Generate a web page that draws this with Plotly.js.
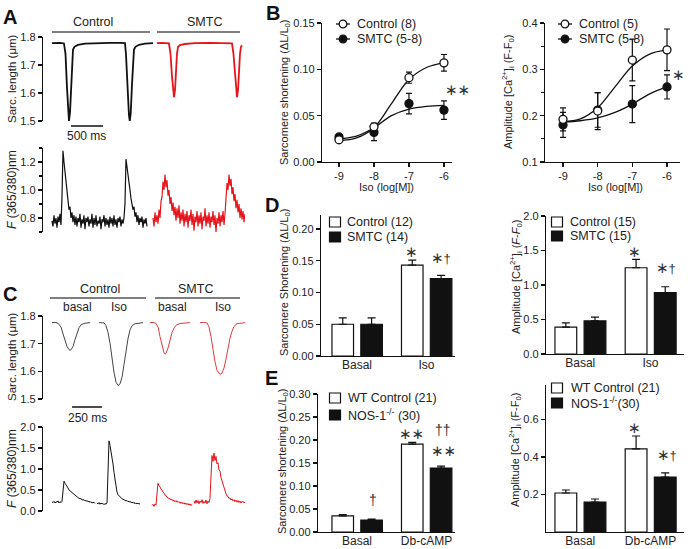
<!DOCTYPE html>
<html><head><meta charset="utf-8">
<script src="https://cdn.plot.ly/plotly-3.0.1.min.js"></script>
<style>html,body{margin:0;padding:0;background:#fff}#chart{width:688px;height:549px}</style>
</head><body><div id="chart"></div>
<script>
// ================= DATA =================
// Panel A – sarcomere length (µm) vs time (ms), 1 Hz field stimulation
const aSarcCtrlT = [0,47,125,187,211,234,257,265,281,296,312,328,351,406,515,671,905,1061,1139,1154,1178,1201,1214,1229,1248,1264,1279,1303,1357,1451,1576];
const aSarcCtrlL = [1.778,1.779,1.779,1.777,1.74,1.62,1.52,1.50,1.53,1.62,1.70,1.755,1.765,1.772,1.776,1.778,1.779,1.779,1.778,1.74,1.62,1.52,1.50,1.53,1.63,1.71,1.755,1.765,1.772,1.776,1.778];
const aSarcSmtcT = [0,78,187,211,234,254,265,281,296,312,328,359,437,593,827,1061,1170,1193,1217,1237,1248,1264,1279,1295,1310,1326];
const aSarcSmtcL = [1.778,1.779,1.777,1.74,1.66,1.60,1.585,1.61,1.68,1.74,1.765,1.771,1.775,1.778,1.779,1.778,1.777,1.74,1.66,1.60,1.585,1.61,1.68,1.74,1.765,1.77];
// Panel A – Fura-2 ratio F(365/380), sampled every aCaDt ms
const aCaDt = 15.6;
const aCaCtrl = [0.78,0.74,0.82,0.76,0.80,0.73,0.81,0.77,0.83,0.75,
 0.95,1.28,1.20,1.12,1.05,0.97,0.92,0.86,0.88,0.80,
 0.84,0.77,0.82,0.75,0.81,0.74,0.80,0.77,0.83,0.73,
 0.79,0.76,0.82,0.72,0.80,0.77,0.81,0.74,0.79,0.76,
 0.83,0.73,0.80,0.75,0.82,0.74,0.78,0.76,0.81,0.72,
 0.79,0.77,0.82,0.74,0.80,0.75,0.79,0.73,0.81,0.76,
 0.80,0.74,0.82,0.75,0.79,0.73,0.80,0.77,0.81,0.74,
 0.79,0.76,0.80,0.90,1.22,1.17,1.13,1.06,1.00,0.94,
 0.91,0.86,0.88,0.81,0.84,0.77,0.82,0.75,0.80,0.77,
 0.81,0.73,0.79,0.76,0.80,0.74];
const aCaSmtc = [0.80,0.74,0.84,0.77,0.82,0.76,0.86,0.80,0.92,0.95,
 1.06,1.00,1.11,1.02,1.07,0.96,1.00,0.90,0.95,0.85,
 0.91,0.82,0.88,0.78,0.87,0.80,0.89,0.76,0.84,0.78,
 0.86,0.74,0.83,0.77,0.85,0.73,0.82,0.78,0.86,0.75,
 0.83,0.71,0.81,0.77,0.85,0.74,0.82,0.76,0.84,0.72,
 0.81,0.78,0.87,0.74,0.82,0.76,0.84,0.73,0.81,0.77,
 0.85,0.75,0.82,0.70,0.80,0.76,0.84,0.74,0.82,0.77,
 0.85,0.75,0.83,0.92,1.05,1.00,1.11,1.03,1.08,0.97,
 1.02,0.92,0.97,0.87,0.93,0.84,0.90,0.80,0.87,0.79,
 0.85,0.77,0.83];

// Panel C – sarcomere length sweeps (basal / Iso)
const cSarcCtrlBasT = [0,25,50,75,92,108,125,142,150,158,175,192,208,225,242,267,292,317];
const cSarcCtrlBasL = [1.776,1.777,1.774,1.76,1.735,1.71,1.69,1.678,1.676,1.678,1.69,1.715,1.74,1.758,1.768,1.773,1.775,1.776];
const cSarcCtrlIsoT = [0,25,42,58,75,92,108,125,142,158,175,192,208,225,242,258,275,300,333,367];
const cSarcCtrlIsoL = [1.776,1.777,1.775,1.765,1.74,1.70,1.645,1.595,1.56,1.549,1.555,1.58,1.625,1.675,1.72,1.75,1.765,1.772,1.775,1.776];
const cSarcSmtcBasT = [0,25,50,67,83,100,117,125,133,150,167,183,200,217,250,292,333];
const cSarcSmtcBasL = [1.776,1.777,1.773,1.76,1.725,1.69,1.666,1.662,1.665,1.685,1.715,1.74,1.757,1.767,1.773,1.775,1.776];
const cSarcSmtcIsoT = [0,33,58,75,92,108,125,142,158,167,183,200,217,233,250,267,283,308,342,375];
const cSarcSmtcIsoL = [1.776,1.777,1.775,1.76,1.725,1.68,1.635,1.603,1.591,1.589,1.593,1.612,1.645,1.685,1.72,1.745,1.762,1.772,1.775,1.776];
// Panel C – Ca transients, sampled every cCaDt ms
const cCaDt = 8.33;
const cCaCtrlBas = [0.22,0.20,0.23,0.19,0.22,0.21,0.24,0.19,0.22,0.20,0.23,0.45,0.71,0.66,0.63,0.58,0.55,0.50,0.48,0.44,0.43,0.40,0.39,0.36,0.35,0.33,0.32,0.30,0.30,0.28,0.28,0.26,0.27,0.24,0.25,0.23,0.24,0.21,0.23,0.20,0.21,0.19,0.21,0.18];
const cCaCtrlIso = [0.19,0.17,0.20,0.16,0.19,0.17,0.18,0.15,0.18,0.16,0.19,0.90,1.67,1.56,1.44,1.30,1.12,0.92,0.72,0.56,0.45,0.39,0.36,0.33,0.31,0.29,0.28,0.27,0.26,0.24,0.25,0.22,0.23,0.21,0.22,0.19,0.21,0.18,0.20,0.17,0.19,0.17,0.18,0.16];
const cCaSmtcBas = [0.13,0.16,0.11,0.17,0.14,0.40,0.66,0.60,0.58,0.52,0.50,0.45,0.43,0.38,0.37,0.33,0.32,0.29,0.30,0.26,0.28,0.24,0.26,0.22,0.25,0.21,0.23,0.20,0.22,0.18,0.21,0.17,0.20,0.16,0.19,0.15,0.18,0.14,0.17,0.13,0.16];
const cCaSmtcIso = [0.24,0.18,0.26,0.19,0.25,0.17,0.24,0.20,0.27,0.18,0.23,0.19,0.26,0.17,0.24,0.20,0.30,1.05,1.32,1.18,1.38,1.20,1.30,1.12,1.15,0.98,0.95,0.80,0.72,0.60,0.52,0.45,0.41,0.36,0.35,0.30,0.31,0.26,0.29,0.24,0.27,0.22,0.26,0.21,0.25,0.20,0.24,0.19,0.23,0.20,0.22,0.19];

// Panel B – concentration–response to isoproterenol
const isoLog = [-9,-8,-7,-6];
const isoLabels = ['-9','-8','-7','-6'];
const bCtrlShort = [0.024,0.038,0.091,0.107];
const bCtrlShortErr = [0.002,0.004,0.006,0.009];
const bSmtcShort = [0.027,0.032,0.063,0.056];
const bSmtcShortErr = [0.002,0.009,0.011,0.010];
const bCtrlCa = [0.192,0.21,0.32,0.342];
const bCtrlCaErr = [0.025,0.04,0.045,0.045];
const bSmtcCa = [0.18,0.212,0.225,0.262];
const bSmtcCaErr = [0.027,0.037,0.04,0.026];
// fitted sigmoid curves
const fitLog = [-9,-8.5,-8,-7.5,-7,-6.5,-6];
const bCtrlShortFit = [0.023,0.026,0.037,0.063,0.089,0.102,0.107];
const bSmtcShortFit = [0.025,0.028,0.037,0.050,0.057,0.060,0.061];
const bCtrlCaFit = [0.187,0.193,0.217,0.262,0.307,0.333,0.342];
const bSmtcCaFit = [0.186,0.189,0.195,0.207,0.225,0.247,0.262];

// Panel D – Basal vs Iso
const dCats = ['Basal','Iso'];
const dCtrlShort = [0.050,0.143];
const dCtrlShortErr = [0.010,0.008];
const dSmtcShort = [0.050,0.122];
const dSmtcShortErr = [0.010,0.005];
const dCtrlCa = [0.39,1.25];
const dCtrlCaErr = [0.06,0.12];
const dSmtcCa = [0.48,0.89];
const dSmtcCaErr = [0.055,0.085];

// Panel E – Basal vs Db-cAMP
const eCats = ['Basal','Db-cAMP'];
const eWtShort = [0.035,0.191];
const eWtShortErr = [0.003,0.004];
const eNosShort = [0.026,0.139];
const eNosShortErr = [0.002,0.004];
const eWtCa = [0.208,0.443];
const eWtCaErr = [0.016,0.069];
const eNosCa = [0.16,0.293];
const eNosCaErr = [0.016,0.022];

// ================= LAYOUT HELPERS =================
const W = 688, H = 549;
const FONT = 'Liberation Sans, Arial, sans-serif';
const px = v => v / W;
const py = v => 1 - v / H;
const domX = (a, b) => [px(a), px(b)];
const domY = (top, bottom) => [py(bottom), py(top)];
const INK = '#111';

// sweep start times (ms) on the shared time axes
const aSarcCtrlStart = 0, aSarcSmtcStart = 1638;
const aCaCtrlStart = 0, aCaSmtcStart = 1576;
const cCtrlBasStart = 0, cCtrlIsoStart = 392, cSmtcBasStart = 817, cSmtcIsoStart = 1233;
const cCaCtrlBasStart = 0, cCaCtrlIsoStart = 375, cCaSmtcBasStart = 833, cCaSmtcIsoStart = 1183;

const sampled = (vals, start, dt) => vals.map((v, i) => start + i * dt);
const shifted = (ts, start) => ts.map(t => t + start);

const traces = [];
function line(x, y, xa, ya, color, width) {
  traces.push({type:'scatter', mode:'lines', x, y, xaxis:xa, yaxis:ya,
    line:{color, width}, hoverinfo:'skip', showlegend:false});
}
// A
line(shifted(aSarcCtrlT, aSarcCtrlStart), aSarcCtrlL, 'x', 'y', '#111', 1.8);
line(shifted(aSarcSmtcT, aSarcSmtcStart), aSarcSmtcL, 'x', 'y', '#e8141b', 1.8);
line(sampled(aCaCtrl, aCaCtrlStart, aCaDt), aCaCtrl, 'x2', 'y2', '#111', 1.2);
line(sampled(aCaSmtc, aCaSmtcStart, aCaDt), aCaSmtc, 'x2', 'y2', '#e8141b', 1.2);
// C
line(shifted(cSarcCtrlBasT, cCtrlBasStart), cSarcCtrlBasL, 'x3', 'y3', '#444', 1);
line(shifted(cSarcCtrlIsoT, cCtrlIsoStart), cSarcCtrlIsoL, 'x3', 'y3', '#444', 1);
line(shifted(cSarcSmtcBasT, cSmtcBasStart), cSarcSmtcBasL, 'x3', 'y3', '#e23c3c', 1);
line(shifted(cSarcSmtcIsoT, cSmtcIsoStart), cSarcSmtcIsoL, 'x3', 'y3', '#e23c3c', 1);
line(sampled(cCaCtrlBas, cCaCtrlBasStart, cCaDt), cCaCtrlBas, 'x4', 'y4', '#111', 1);
line(sampled(cCaCtrlIso, cCaCtrlIsoStart, cCaDt), cCaCtrlIso, 'x4', 'y4', '#111', 1);
line(sampled(cCaSmtcBas, cCaSmtcBasStart, cCaDt), cCaSmtcBas, 'x4', 'y4', '#e8141b', 1);
line(sampled(cCaSmtcIso, cCaSmtcIsoStart, cCaDt), cCaSmtcIso, 'x4', 'y4', '#e8141b', 1);

// B
function fit(x, y, xa, ya) {
  traces.push({type:'scatter', mode:'lines', x, y, xaxis:xa, yaxis:ya,
    line:{color:INK, width:1.3, shape:'spline', smoothing:1}, hoverinfo:'skip', showlegend:false});
}
function pts(y, err, xa, ya, filled, name) {
  traces.push({type:'scatter', mode:'markers', name, x:isoLog, y, xaxis:xa, yaxis:ya,
    marker:{symbol:'circle', size:8, color: filled ? INK : 'white', line:{color:INK, width:1.3}},
    error_y:{type:'data', array:err, color:INK, thickness:1.2, width:3},
    hoverinfo:'skip', showlegend:false});
}
fit(fitLog, bCtrlShortFit, 'x5', 'y5');
fit(fitLog, bSmtcShortFit, 'x5', 'y5');
pts(bSmtcShort, bSmtcShortErr, 'x5', 'y5', true, 'SMTC (5-8)');
pts(bCtrlShort, bCtrlShortErr, 'x5', 'y5', false, 'Control (8)');
fit(fitLog, bCtrlCaFit, 'x6', 'y6');
fit(fitLog, bSmtcCaFit, 'x6', 'y6');
pts(bSmtcCa, bSmtcCaErr, 'x6', 'y6', true, 'SMTC (5-8)');
pts(bCtrlCa, bCtrlCaErr, 'x6', 'y6', false, 'Control (5)');

// D, E bars
const BAR_W = 0.31, OFF_A = -0.36, OFF_B = 0.055;
function bars(cats, y, err, xa, ya, filled, name) {
  traces.push({type:'bar', name, x: cats.map((c, i) => i + 1), y, xaxis:xa, yaxis:ya,
    width: BAR_W, offset: filled ? OFF_B : OFF_A,
    marker:{color: filled ? INK : 'white', line:{color:INK, width:1.2}},
    error_y:{type:'data', symmetric:false, array:err, arrayminus: err.map(() => 0),
      color:INK, thickness:1.2, width:4},
    hoverinfo:'skip', showlegend:false});
}
bars(dCats, dCtrlShort, dCtrlShortErr, 'x7', 'y7', false, 'Control (12)');
bars(dCats, dSmtcShort, dSmtcShortErr, 'x7', 'y7', true, 'SMTC (14)');
bars(dCats, dCtrlCa, dCtrlCaErr, 'x8', 'y8', false, 'Control (15)');
bars(dCats, dSmtcCa, dSmtcCaErr, 'x8', 'y8', true, 'SMTC (15)');
bars(eCats, eWtShort, eWtShortErr, 'x9', 'y9', false, 'WT Control (21)');
bars(eCats, eNosShort, eNosShortErr, 'x9', 'y9', true, 'NOS-1-/- (30)');
bars(eCats, eWtCa, eWtCaErr, 'x10', 'y10', false, 'WT Control (21)');
bars(eCats, eNosCa, eNosCaErr, 'x10', 'y10', true, 'NOS-1-/-(30)');

// ================= AXES =================
const tickfont = {family:FONT, size:11, color:'#222'};
const yBase = {showline:true, linecolor:INK, linewidth:1.2, ticks:'outside', ticklen:4,
  tickwidth:1.1, tickcolor:INK, showgrid:false, zeroline:false, tickfont, automargin:false, fixedrange:true};
const xHidden = {visible:false, showgrid:false, zeroline:false, automargin:false, fixedrange:true};
const catX = (cats) => Object.assign({}, yBase, {ticks:'', tickmode:'array', ticklabelstandoff:-3,
  tickvals: cats.map((c, i) => i + 1), ticktext: cats, tickfont:{family:FONT, size:12, color:'#222'}});
const logX = Object.assign({}, yBase, {tickmode:'array', tickvals:isoLog, ticktext:isoLabels});

const layout = {
  width: W, height: H, margin:{l:0, r:0, t:0, b:0}, paper_bgcolor:'#fff', plot_bgcolor:'rgba(0,0,0,0)',
  showlegend:false, barmode:'overlay', font:{family:FONT, size:12, color:'#222'},
  // A
  xaxis: Object.assign({}, xHidden, {domain:domX(43,245), range:[-140,3011], anchor:'y'}),
  yaxis: Object.assign({}, yBase, {domain:domY(37,121), range:[1.5,1.8], dtick:0.1, tickformat:'.1f', anchor:'x'}),
  xaxis2: Object.assign({}, xHidden, {domain:domX(43,245), range:[-140,3011], anchor:'y2'}),
  yaxis2: Object.assign({}, yBase, {domain:domY(148,232), range:[0.7,1.3], tick0:0.8, dtick:0.2, tickformat:'.1f',
    minor:{ticks:'outside', ticklen:3, tickcolor:INK, dtick:0.1, tick0:0.7}, anchor:'x2'}),
  // C
  xaxis3: Object.assign({}, xHidden, {domain:domX(43,245), range:[-75,1608], anchor:'y3'}),
  yaxis3: Object.assign({}, yBase, {domain:domY(316,399), range:[1.5,1.8], dtick:0.1, tickformat:'.1f', anchor:'x3'}),
  xaxis4: Object.assign({}, xHidden, {domain:domX(43,245), range:[-75,1608], anchor:'y4'}),
  yaxis4: Object.assign({}, yBase, {domain:domY(427,511), range:[0,2], dtick:0.5, tickformat:'.1f', anchor:'x4'}),
  // B
  xaxis5: Object.assign({}, logX, {domain:domX(322,452), range:[-9.486,-5.77], anchor:'y5'}),
  yaxis5: Object.assign({}, yBase, {domain:domY(23,162), range:[0,0.15], dtick:0.05, tickformat:'.2f', anchor:'x5'}),
  xaxis6: Object.assign({}, logX, {domain:domX(545,680), range:[-9.52,-5.625], anchor:'y6'}),
  yaxis6: Object.assign({}, yBase, {domain:domY(23,162), range:[0.1,0.4], dtick:0.1, tickformat:'.1f',
    minor:{ticks:'outside', ticklen:3, tickcolor:INK, dtick:0.05}, anchor:'x6'}),
  // D
  xaxis7: Object.assign(catX(dCats), {domain:domX(321,455), range:[0.482,2.41], anchor:'y7'}),
  yaxis7: Object.assign({}, yBase, {domain:domY(215,356), range:[0,0.222], dtick:0.05, tickformat:'.2f', anchor:'x7'}),
  xaxis8: Object.assign(catX(dCats), {domain:domX(546,684), range:[0.5125,2.477], anchor:'y8'}),
  yaxis8: Object.assign({}, yBase, {domain:domY(216,354), range:[0,2], dtick:0.5, tickformat:'.1f', anchor:'x8'}),
  // E
  xaxis9: Object.assign(catX(eCats), {domain:domX(318,455), range:[0.439,2.41], anchor:'y9'}),
  yaxis9: Object.assign({}, yBase, {domain:domY(394,532), range:[0,0.30], dtick:0.05, tickformat:'.2f', anchor:'x9'}),
  xaxis10: Object.assign(catX(eCats), {domain:domX(546,684), range:[0.5125,2.477], anchor:'y10'}),
  yaxis10: Object.assign({}, yBase, {domain:domY(385,532), range:[0,0.784], tickvals:[0.2,0.4,0.6], tickformat:'.1f', anchor:'x10'}),
  annotations: [], shapes: []
};

const A = layout.annotations, S = layout.shapes;
function ann(x, y, text, o = {}) {
  A.push(Object.assign({xref:'paper', yref:'paper', x:px(x), y:py(y), text, showarrow:false,
    xanchor:'center', yanchor:'middle', font:{family:FONT, size:12, color:'#222'}}, o));
}
function vtitle(x, y, text, size = 11.5) {
  ann(x, y, text, {textangle:-90, font:{family:FONT, size, color:'#222'}});
}
function hline(x0, x1, y, color = '#555', width = 1.5) {
  S.push({type:'line', xref:'paper', yref:'paper', x0:px(x0), x1:px(x1), y0:py(y), y1:py(y), line:{color, width}});
}
const letter = {family:FONT, size:20, color:'#111'};

// Panel letters
ann(10, 17, '<b>A</b>', {font:letter});
ann(273, 13, '<b>B</b>', {font:letter});
ann(10, 294, '<b>C</b>', {font:letter});
ann(272, 205, '<b>D</b>', {font:letter});
ann(271, 378, '<b>E</b>', {font:letter});

// A headers and scale bar
ann(93, 22, 'Control', {font:{family:FONT, size:12.5, color:'#222'}});
ann(205, 22, 'SMTC', {font:{family:FONT, size:12.5, color:'#222'}});
hline(52, 150, 32); hline(157, 240, 32);
S.push({type:'line', xref:'x', yref:'paper', x0:296, x1:796, y0:py(126), y1:py(126), line:{color:INK, width:1.5}});
A.push({xref:'x', yref:'paper', x:546, y:py(136), text:'500 ms', showarrow:false, xanchor:'center', yanchor:'middle', font:{family:FONT, size:12, color:'#222'}});
vtitle(12, 79, 'Sarc. length (μm)');
vtitle(12, 190, '<i>F</i> (365/380)nm', 12);

// C headers and scale bar
ann(100, 289, 'Control', {font:{family:FONT, size:12.5, color:'#222'}});
ann(195, 289, 'SMTC', {font:{family:FONT, size:12.5, color:'#222'}});
hline(50, 146, 298); hline(155, 240, 298);
ann(77, 307, 'basal'); ann(119, 307, 'Iso'); ann(172, 307, 'basal'); ann(223, 307, 'Iso');
S.push({type:'line', xref:'x3', yref:'paper', x0:167, x1:417, y0:py(407), y1:py(407), line:{color:INK, width:1.5}});
A.push({xref:'x3', yref:'paper', x:292, y:py(418), text:'250 ms', showarrow:false, xanchor:'center', yanchor:'middle', font:{family:FONT, size:12, color:'#222'}});
vtitle(12, 357, 'Sarc. length (μm)');
vtitle(12, 469, '<i>F</i> (365/380)nm', 12);

// B titles
vtitle(285, 92, 'Sarcomere shortening (ΔL/L<sub>0</sub>)', 11);
vtitle(508, 92, 'Amplitude [Ca<sup>2+</sup>]<sub>i</sub> (F-F<sub>0</sub>)', 11);
ann(386, 187, 'Iso (log[M])', {font:{family:FONT, size:11, color:'#222'}});
ann(615, 187, 'Iso (log[M])', {font:{family:FONT, size:11, color:'#222'}});
// D, E titles
vtitle(285, 283, 'Sarcomere Shortening (ΔL/L<sub>0</sub>)', 11);
vtitle(516, 277, 'Amplitude [Ca<sup>2+</sup>]<sub>i</sub> (<i>F</i>-<i>F</i><sub>0</sub>)', 11);
vtitle(283, 461, 'Sarcomere shortening (ΔL/L<sub>0</sub>)', 11);
vtitle(515, 450, 'Amplitude [Ca<sup>2+</sup>]<sub>i</sub> (F-F<sub>0</sub>)', 11);

// Legends (manual)
const legFont = {family:FONT, size:12.5, color:'#222'};
function legCircle(x, y, filled, label) {
  S.push({type:'line', xref:'paper', yref:'paper', x0:px(x-7), x1:px(x+7), y0:py(y), y1:py(y), line:{color:INK, width:1.3}});
  S.push({type:'circle', xref:'paper', yref:'paper', x0:px(x-3.8), x1:px(x+3.8), y0:py(y+3.8), y1:py(y-3.8),
    fillcolor: filled ? INK : 'white', line:{color:INK, width:1.3}});
  ann(x + 12, y, label, {xanchor:'left', font:legFont});
}
function legBox(x, y, filled, label, tx) {
  S.push({type:'rect', xref:'paper', yref:'paper', x0:px(x-5.5), x1:px(x+5.5), y0:py(y+5), y1:py(y-5),
    fillcolor: filled ? INK : 'white', line:{color:INK, width:1.2}});
  ann(tx, y, label, {xanchor:'left', font:legFont});
}
legCircle(343, 24, false, 'Control (8)');
legCircle(343, 39, true, 'SMTC (5-8)');
legCircle(565, 24, false, 'Control (5)');
legCircle(565, 39, true, 'SMTC (5-8)');
legBox(335, 222, false, 'Control (12)', 345);
legBox(335, 237, true, 'SMTC (14)', 345);
legBox(557, 222, false, 'Control (15)', 568);
legBox(557, 236, true, 'SMTC (15)', 568);
legBox(335, 398, false, 'WT Control (21)', 346);
legBox(335, 415, true, 'NOS-1<sup>-/-</sup> (30)', 346);
legBox(557, 388, false, 'WT Control (21)', 569);
legBox(557, 403, true, 'NOS-1<sup>-/-</sup>(30)', 569);

// Significance marks
const sig = {family:'DejaVu Sans, sans-serif', size:15, color:'#333'};
const dag = {family:FONT, size:14, color:'#333'};
const star = '∗', dagger = '<span style="font-family:Liberation Sans;font-size:13px">†</span>';
ann(457, 90, star + star, {font:sig});
ann(678, 75, star, {font:sig});
ann(412, 252, star, {font:sig});
ann(441, 258, star + dagger, {font:sig});
ann(634, 252, star, {font:sig});
ann(666, 268, star + dagger, {font:sig});
ann(373, 500, '†', {font:dag});
ann(412, 434, star + star, {font:sig});
ann(443, 430, '††', {font:dag});
ann(443, 451, star + star, {font:sig});
ann(634, 428, star, {font:sig});
ann(667, 455, star + dagger, {font:sig});

Plotly.newPlot('chart', traces, layout, {staticPlot:true, displayModeBar:false});
</script>
</body></html>
